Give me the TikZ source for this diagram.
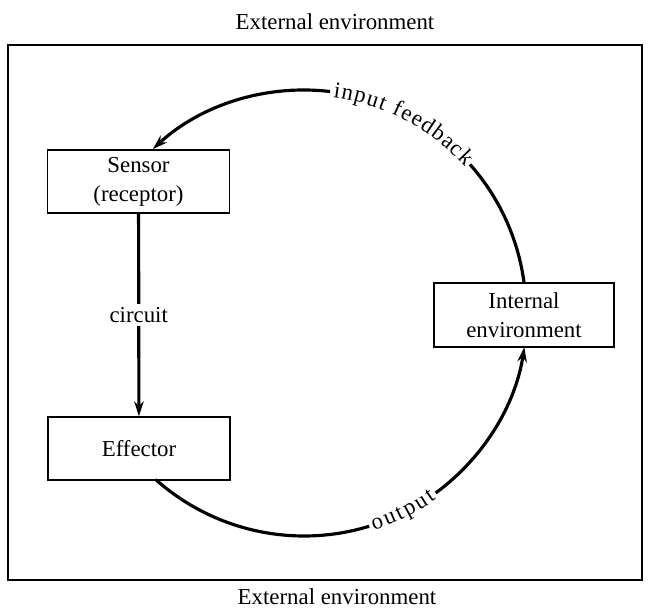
\documentclass[tikz,border=0pt]{standalone}
\usepackage{fontspec}
\setmainfont{Liberation Serif}
\usetikzlibrary{arrows.meta,positioning,calc,decorations.text}

\begin{document}
\begin{tikzpicture}[x=0.02cm,y=0.02cm,
  font=\fontsize{13}{14.5}\selectfont,
  box/.style={draw,line width=0.8pt,align=center,minimum width=3.64cm,minimum height=1.26cm,inner sep=0pt,
    font=\fontsize{13}{16.5}\selectfont},
  ring/.style={line width=1.8pt},
  arr/.style={line width=1.8pt,-{Stealth[length=3mm,width=1.9mm]}}]
  \useasboundingbox (0,0) rectangle (650,610);
  \draw[line width=0.8pt] (8,30) rectangle (642,565);
  \node (exttop) at (335,588) {External environment};
  \node (extbot) at (337,13) {External environment};
  \node[box] (sensor) at (138.5,428.5) {Sensor\\(receptor)};
  \node[box] (effector) at (139,161.5) {Effector};
  \node[box,minimum width=3.6cm,minimum height=1.28cm] (internal) at (524,295) {Internal\\environment};
  % points on the feedback ring
  \coordinate (c) at (304,297);
  \coordinate (fbout) at ($(c)+(41.5:223)$);
  \coordinate (fbin) at ($(c)+(83.3:223)$);
  \coordinate (effout) at ($(c)+(228.3:223)$);
  \coordinate (outin) at ($(c)+(306.2:223)$);
  \draw[arr] (sensor) -- node[fill=white,inner sep=2pt] {circuit} (effector);
  \draw[ring] (internal.north) arc[start angle=7.7,end angle=41.5,radius=223];
  \path[decorate,decoration={text along path,text align=fit to path,raise=-3pt,
    text={|\fontsize{13}{14.5}\selectfont|input feedback}}]
    ($(c)+(82.3:223)$) arc[start angle=82.3,end angle=42.3,radius=223];
  \draw[arr] (fbin) arc[start angle=83.3,end angle=132.7,radius=223];
  \draw[ring] (effout) arc[start angle=228.3,end angle=287,radius=223];
  \path[decorate,decoration={text along path,text align=fit to path,raise=-3pt,
    text={|\fontsize{13}{14.5}\selectfont|output}}]
    ($(c)+(287.8:223)$) arc[start angle=287.8,end angle=305.4,radius=223];
  \draw[arr] (outin) arc[start angle=306.2,end angle=351.2,radius=223];
\end{tikzpicture}
\end{document}
